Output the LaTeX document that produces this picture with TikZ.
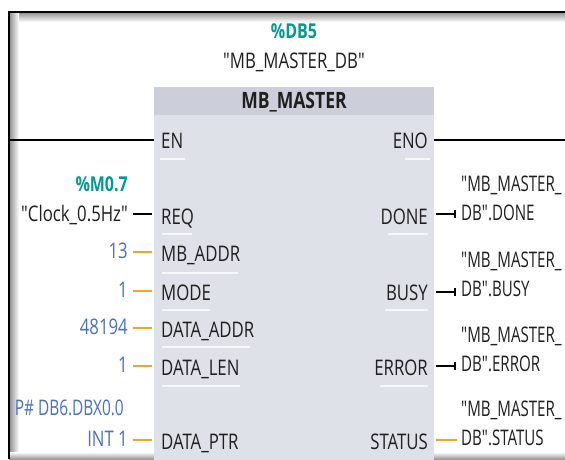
\documentclass[tikz,border=0pt]{standalone}
\usepackage{fontspec}
\setmainfont{Open Sans}[FakeStretch=0.78, Ligatures=TeXOff]
\newcommand{\qt}{\symbol{34}}
\definecolor{teal}{RGB}{0,155,145}
\definecolor{valblue}{RGB}{75,110,200}
\definecolor{pinorange}{RGB}{245,165,35}
\definecolor{hdrgray}{RGB}{204,207,217}
\definecolor{bodygray}{RGB}{223,225,233}
\tikzset{
  txt/.style={inner sep=0pt, font=\fontsize{21.5}{23}\selectfont},
  pinL/.style={txt, anchor=base west, text=black!88},
  pinR/.style={txt, anchor=base east, text=black!88},
  valL/.style={txt, anchor=base east, text=valblue},
  outR/.style={txt, anchor=base west, text=black!88},
  boolwire/.style={black, line width=2.5pt},
  wordwire/.style={pinorange, line width=2.5pt},
  sepline/.style={white, opacity=0.75, line width=1.3pt},
}
\begin{document}
\begin{tikzpicture}[x=1pt,y=-1pt]
\useasboundingbox (0,0) rectangle (565,459);
\clip (0,0) rectangle (565,459);
\fill[white] (0,0) rectangle (565,459);
% frame with shadow
\shade[top color=black!45, bottom color=white] (9,12) rectangle (565,22);
\shade[left color=black!45, right color=white] (9,12) rectangle (19,459);
\shade[top color=white, bottom color=black!40] (9,452) rectangle (565,459);
\draw[black, line width=2pt] (9,459) -- (9,12) -- (565,12);
% block
\fill[bodygray] (154,87) rectangle (434,462);
\fill[hdrgray] (154,87) rectangle (434,115);
\node[txt, font=\fontsize{20.5}{22}\selectfont\bfseries, text=teal] (dbnum) at (294,31) {\%DB5};
\node[txt, text=black!88] (dbname) at (294,62) {\qt MB\_MASTER\_DB\qt};
\node[txt, font=\fontsize{22.5}{24}\selectfont\bfseries, text=black!88] (title) at (294,102) {MB\_MASTER};
% separators
\draw[sepline] (160,159) -- (185,159);
\draw[sepline] (162,234) -- (192,234);
\draw[sepline] (162,273) -- (238,273);
\draw[sepline] (162,310) -- (210,310);
\draw[sepline] (162,347) -- (250,347);
\draw[sepline] (162,386) -- (240,386);
\draw[sepline] (405,159) -- (430,159);
\draw[sepline] (388,234) -- (428,234);
\draw[sepline] (385,310) -- (428,310);
\draw[sepline] (380,386) -- (428,386);
% pins left
\node[pinL] (en) at (161,148) {EN};
\node[pinL] (req) at (161,224) {REQ};
\node[pinL] (mbaddr) at (161,261) {MB\_ADDR};
\node[pinL] (mode) at (161,300) {MODE};
\node[pinL] (daddr) at (161,337) {DATA\_ADDR};
\node[pinL] (dlen) at (161,375) {DATA\_LEN};
\node[pinL] (dptr) at (161,449) {DATA\_PTR};
% pins right
\node[pinR] (eno) at (428,148) {ENO};
\node[pinR] (done) at (428,224) {DONE};
\node[pinR] (busy) at (428,300) {BUSY};
\node[pinR] (error) at (428,375) {ERROR};
\node[pinR] (status) at (428,449) {STATUS};
% left values
\node[txt, anchor=base east, font=\fontsize{20.5}{22}\selectfont\bfseries, text=teal] (m07) at (128,191) {\%M0.7};
\node[txt, anchor=base east, text=black!88] (clock) at (128,221) {\qt Clock\_0.5Hz\qt};
\node[valL] (v13) at (128,258) {13};
\node[valL] (v1a) at (128,297) {1};
\node[valL] (v48194) at (128,334) {48194};
\node[valL] (v1b) at (128,372) {1};
\node[valL] (pdb) at (124,415) {\scalebox{0.92}[1]{P\# DB6.DBX0.0}};
\node[valL] (int1) at (128,446) {INT 1};
% right outputs
\node[outR] (o1a) at (461,191) {\scalebox{0.9}[1]{\qt MB\_MASTER\_}};
\node[outR] (o1b) at (461,220) {\scalebox{0.9}[1]{DB\qt.DONE}};
\node[outR] (o2a) at (461,267) {\scalebox{0.9}[1]{\qt MB\_MASTER\_}};
\node[outR] (o2b) at (461,296) {\scalebox{0.9}[1]{DB\qt.BUSY}};
\node[outR] (o3a) at (461,342) {\scalebox{0.9}[1]{\qt MB\_MASTER\_}};
\node[outR] (o3b) at (461,371) {\scalebox{0.9}[1]{DB\qt.ERROR}};
\node[outR] (o4a) at (461,416) {\scalebox{0.9}[1]{\qt MB\_MASTER\_}};
\node[outR] (o4b) at (461,445) {\scalebox{0.9}[1]{DB\qt.STATUS}};
% wire end coordinates
\coordinate (railL) at (9,140);
\coordinate (enP) at (154,140);
\coordinate (enoP) at (434,140);
\coordinate (railR) at (565,140);
\coordinate (reqA) at (133,214);   \coordinate (reqB) at (152,214);
\coordinate (mbA) at (133,252);    \coordinate (mbB) at (152,252);
\coordinate (moA) at (133,291);    \coordinate (moB) at (152,291);
\coordinate (daA) at (133,328);    \coordinate (daB) at (152,328);
\coordinate (dlA) at (133,366);    \coordinate (dlB) at (152,366);
\coordinate (dpA) at (133,440);    \coordinate (dpB) at (152,440);
\coordinate (doA) at (436,214);    \coordinate (doB) at (455,214);
\coordinate (buA) at (436,292);    \coordinate (buB) at (455,292);
\coordinate (erA) at (436,366);    \coordinate (erB) at (455,366);
\coordinate (stA) at (436,440);    \coordinate (stB) at (457,440);
% wires
\draw[boolwire] (railL) -- (enP);
\draw[boolwire] (enoP) -- (railR);
\draw[boolwire] (reqA) -- (reqB);
\draw[wordwire] (mbA) -- (mbB);
\draw[wordwire] (moA) -- (moB);
\draw[wordwire] (daA) -- (daB);
\draw[wordwire] (dlA) -- (dlB);
\draw[wordwire] (dpA) -- (dpB);
\draw[boolwire] (doA) -- (doB);
\draw[boolwire] ([yshift=-4pt]doB) -- ([yshift=4pt]doB);
\draw[boolwire] (buA) -- (buB);
\draw[boolwire] ([yshift=-4pt]buB) -- ([yshift=4pt]buB);
\draw[boolwire] (erA) -- (erB);
\draw[boolwire] ([yshift=-4pt]erB) -- ([yshift=4pt]erB);
\draw[wordwire] (stA) -- (stB);
\end{tikzpicture}
\end{document}
